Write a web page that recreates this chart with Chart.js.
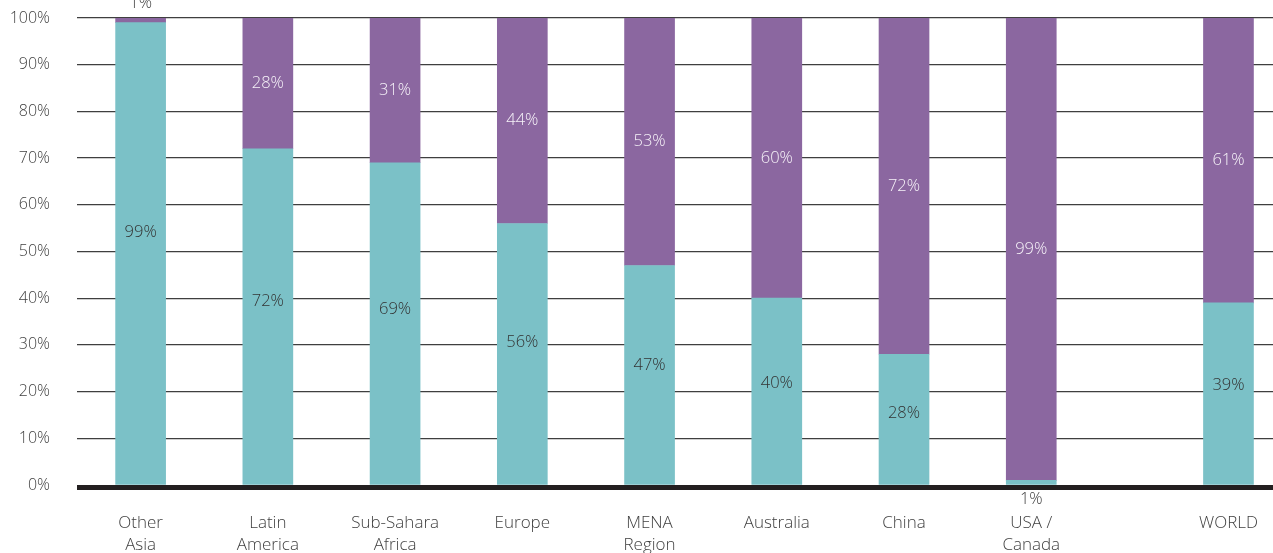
<!DOCTYPE html>
<html>
<head>
<meta charset="utf-8">
<script src="https://cdn.jsdelivr.net/npm/chart.js@4.4.1/dist/chart.umd.min.js"></script>
<style>
  html, body { margin: 0; padding: 0; background: #ffffff; }
  #wrap { width: 1273px; height: 553px; }
</style>
</head>
<body>
<div id="wrap"><canvas id="chart" width="1273" height="553"></canvas></div>
<script>
// Region names, one array entry per tick line
const regions = [
  ["Other", "Asia"],
  ["Latin", "America"],
  ["Sub-Sahara", "Africa"],
  ["Europe"],
  ["MENA", "Region"],
  ["Australia"],
  ["China"],
  ["USA /", "Canada"],
  ["WORLD"]
];
// Shares per region (%), lower (teal) and upper (purple) segments
const lowerShare = [99, 72, 69, 56, 47, 40, 28, 1, 39];
const upperShare = [1, 28, 31, 44, 53, 60, 72, 99, 61];
// Value axis ticks (%)
const yTicks = [0, 10, 20, 30, 40, 50, 60, 70, 80, 90, 100];

const FONT = "'Open Sans', Lato, sans-serif";
const TEXT = '#3f3f3f';
const TEAL = '#7bc1c7';
const PURPLE = '#8b67a0';

// The WORLD total sits a little apart from the regional bars
const WORLD_GAP = 0.55;
const slot = regions.map((r, i) => (i < regions.length - 1 ? i : i + WORLD_GAP));

const baseline = {
  id: 'baseline',
  afterDatasetsDraw(chart) {
    const { ctx, chartArea } = chart;
    ctx.save();
    ctx.strokeStyle = '#231f20';
    ctx.lineWidth = 5;
    ctx.beginPath();
    ctx.moveTo(chartArea.left, chartArea.bottom + 2.5);
    ctx.lineTo(chartArea.right, chartArea.bottom + 2.5);
    ctx.stroke();
    ctx.restore();
  }
};

const valueLabels = {
  id: 'valueLabels',
  afterDatasetsDraw(chart) {
    const ctx = chart.ctx;
    ctx.save();
    ctx.font = '300 16.5px ' + FONT;
    ctx.textAlign = 'center';
    ctx.textBaseline = 'middle';
    chart.data.datasets.forEach((ds, di) => {
      const meta = chart.getDatasetMeta(di);
      meta.data.forEach((bar, i) => {
        const v = ds.data[i].y;
        const top = Math.min(bar.y, bar.base);
        const bottom = Math.max(bar.y, bar.base);
        const h = bottom - top;
        // lower-segment labels sit slightly above the segment middle
        let y = (top + bottom) / 2 - (di === 0 ? 0.045 * h : 0);
        let color = ds.labelColor;
        if (h < 20) {
          // too thin for an inside label: place it outside the bar
          color = TEXT;
          y = di === 0 ? bottom + 15 : top - 15;
        }
        ctx.fillStyle = color;
        ctx.fillText(v + '%', bar.x, y);
      });
    });
    ctx.restore();
  }
};

new Chart(document.getElementById('chart'), {
  type: 'bar',
  data: {
    datasets: [
      {
        label: 'Lower share',
        data: slot.map((x, i) => ({ x, y: lowerShare[i] })),
        backgroundColor: TEAL,
        labelColor: '#333333',
        barThickness: 50,
        borderWidth: 0
      },
      {
        label: 'Upper share',
        data: slot.map((x, i) => ({ x, y: upperShare[i] })),
        backgroundColor: PURPLE,
        labelColor: '#f6f2f8',
        barThickness: 50,
        borderWidth: 0
      }
    ]
  },
  options: {
    responsive: false,
    animation: false,
    layout: { padding: { top: 18, right: 0, left: 0, bottom: 0 } },
    plugins: { legend: { display: false }, tooltip: { enabled: false } },
    scales: {
      x: {
        type: 'linear',
        stacked: true,
        offset: false,
        min: -0.5,
        max: 8.9,
        grid: { display: false, drawTicks: false },
        border: { display: false },
        afterBuildTicks(scale) {
          scale.ticks = slot.map(v => ({ value: v }));
        },
        afterFit(scale) {
          scale.height = 68;
          scale.paddingLeft = 0;
          scale.paddingRight = 0;
        },
        ticks: {
          autoSkip: false,
          maxRotation: 0,
          minRotation: 0,
          padding: 27,
          color: TEXT,
          font: { family: FONT, size: 17, weight: 300, lineHeight: 1.3 },
          callback(value, index) { return regions[index]; }
        }
      },
      y: {
        stacked: true,
        min: 0,
        max: 100,
        afterBuildTicks(scale) {
          scale.ticks = yTicks.map(v => ({ value: v }));
        },
        afterFit(scale) {
          scale.width = 77;
          scale.paddingTop = 0;
          scale.paddingBottom = 0;
        },
        grid: {
          drawTicks: false,
          color: ctx => (ctx.tick && ctx.tick.value === 0 ? 'rgba(0,0,0,0)' : '#3f3f3f'),
          lineWidth: 1.3
        },
        border: { display: false },
        ticks: {
          padding: 27,
          color: TEXT,
          font: { family: FONT, size: 16, weight: 300 },
          callback: v => v + '%'
        }
      }
    }
  },
  plugins: [baseline, valueLabels]
});
</script>
</body>
</html>
